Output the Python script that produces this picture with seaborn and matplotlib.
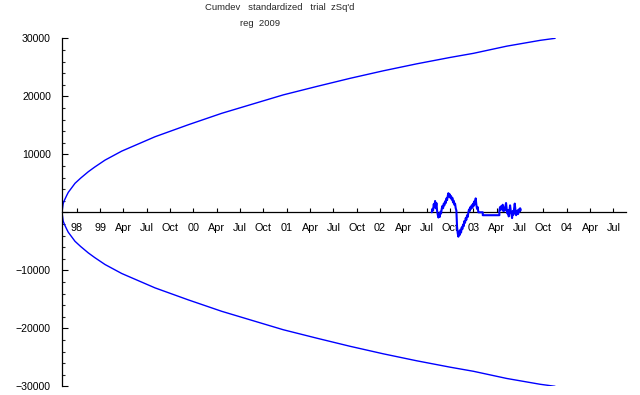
import numpy as np
import pandas as pd
import matplotlib
matplotlib.use("Agg")
import matplotlib.pyplot as plt
import seaborn as sns
from matplotlib.ticker import MultipleLocator

sns.set_style("white")
plt.rcParams['font.family'] = ['Liberation Sans', 'DejaVu Sans']
plt.rcParams['xtick.direction'] = 'in'
plt.rcParams['ytick.direction'] = 'in'

# x unit: quarters since the start of the run
tick_pos = [0.63 + k for k in range(24)]
tick_labels = ["98", "99", "Apr", "Jul", "Oct", "00", "Apr", "Jul", "Oct",
               "01", "Apr", "Jul", "Oct", "02", "Apr", "Jul", "Oct",
               "03", "Apr", "Jul", "Oct", "04", "Apr", "Jul"]

# probability envelope (upper half, lower half is the mirror)
env_q = [0, 0.05, 0.1, 0.2, 0.27, 0.4, 0.557, 0.8, 1.127, 1.4, 1.843, 2.559,
         3.986, 5.413, 6.844, 8.271, 9.484, 10.916, 12.343, 13.77, 15.2,
         16.63, 17.63, 19.06, 20.49, 21.13]
env_v = [0, 1500, 2050, 2900, 3450, 4150, 5000, 5900, 7000, 7800, 9000, 10550,
         13030, 15100, 17070, 18790, 20250, 21700, 23100, 24400, 25600,
         26700, 27410, 28650, 29650, 30000]

# cumulative deviation trace, sampled daily-ish in two pieces with a gap
seg1_start, seg1_end = 15.844, 17.841
seg1_vals = [0, 600, 300, 1400, 900, 1950, 700, 1600, 300, -400,
             -900, -300, -800, 100, -200, 600, 1100, 700, 1500, 1200,
             1900, 1600, 2400, 2100, 2800, 3300, 2700, 3100, 2500, 2800,
             2200, 2500, 1700, 2000, 1300, 1500, 700, 300, -2500, -3600,
             -4200, -3300, -3900, -3000, -3500, -2600, -2900, -2100, -2400, -1500,
             -1800, -1000, -1300, -500, -800, 0, 500, 200, 900, 600,
             1200, 800, 1500, 1100, 1900, 1400, 2400, 1300, 600, 900, 0]
gap_q = [17.841, 18.03, 18.03, 18.741]
gap_vals = [0, 0, -500, -500]
seg2_start, seg2_end = 18.741, 19.659
seg2_vals = [300, 900, 400, 1100, 600, 1300, 200, 800, 300, 1000,
             1600, 500, -200, 400, -700, 100, 1200, 300, -300, -1000,
             200, -400, 600, 1500, 400, -500, -200, 300, -300, 500,
             100, 700, 400]

trace = pd.DataFrame({
    "q": np.concatenate([np.linspace(seg1_start, seg1_end, len(seg1_vals)),
                         gap_q,
                         np.linspace(seg2_start, seg2_end, len(seg2_vals))]),
    "v": np.concatenate([seg1_vals, gap_vals, seg2_vals]),
})
env = pd.DataFrame({"q": env_q, "up": env_v, "lo": [-v for v in env_v]})

fig = plt.figure(figsize=(6.4, 3.95), dpi=100)
ax = fig.add_axes([0.0969, 0.022, 0.8813, 0.881])

blue = "#0000ff"
sns.lineplot(data=env, x="q", y="up", color=blue, lw=1.0, ax=ax,
             estimator=None, sort=False)
sns.lineplot(data=env, x="q", y="lo", color=blue, lw=1.0, ax=ax,
             estimator=None, sort=False)
sns.lineplot(data=trace, x="q", y="v", color=blue, lw=1.5, ax=ax,
             estimator=None, sort=False, zorder=5)

ax.set_xlim(0, 24.17)
ax.set_ylim(-30000, 30000)
ax.set_xlabel("")
ax.set_ylabel("")

for s in ["top", "right"]:
    ax.spines[s].set_visible(False)
ax.spines["bottom"].set_position(("data", 0))
ax.spines["bottom"].set_linewidth(0.9)
ax.spines["left"].set_linewidth(0.9)
ax.spines["bottom"].set_color("black")
ax.spines["left"].set_color("black")

ax.set_xticks(tick_pos)
ax.set_xticklabels(tick_labels)
ax.set_yticks([-30000, -20000, -10000, 0, 10000, 20000, 30000])
ax.set_yticklabels(["\u221230000", "\u221220000", "\u221210000", "",
                    "10000", "20000", "30000"])
ax.yaxis.set_minor_locator(MultipleLocator(2000))

ax.tick_params(axis="x", direction="in", length=3, width=0.8, pad=8,
               labelsize=7.8, colors="black", bottom=True)
ax.tick_params(axis="y", which="major", direction="in", length=4, width=0.8,
               pad=8, labelsize=7.6, colors="black", left=True)
ax.tick_params(axis="y", which="minor", direction="in", length=2, width=0.8,
               left=True)

fig.text(280 / 640, 1 - 7.5 / 395, "Cumdev   standardized   trial  zSq'd",
         ha="center", va="center", fontsize=6.8)
fig.text(260 / 640, 1 - 24 / 395, "reg  2009", ha="center", va="center",
         fontsize=6.8)

fig.savefig("out.png", dpi=100)
